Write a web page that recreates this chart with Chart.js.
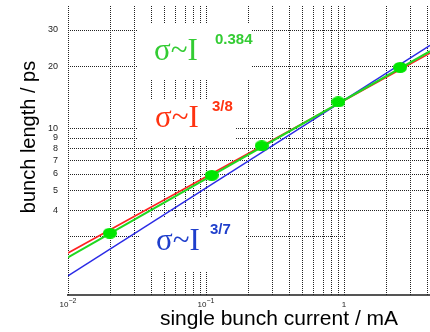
<!DOCTYPE html>
<html>
<head>
<meta charset="utf-8">
<script src="https://cdn.jsdelivr.net/npm/chart.js@4.4.1/dist/chart.umd.min.js"></script>
<style>
  html, body { margin: 0; padding: 0; background: #fff; }
  canvas { display: block; }
</style>
</head>
<body>
<canvas id="bunchChart" width="430" height="332"></canvas>
<script>
// measured bunch length (ps) vs single bunch current (mA)
const current = [0.0201, 0.110, 0.253, 0.909, 2.55];
const bunchLength = [3.09, 5.90, 8.20, 13.4, 19.7];

// power law fits, end points at both edges of the current range
const fitCurrent = [0.01, 4.2];
const fit0384 = [2.36, 23.6];
const fit38 = [2.48, 23.1];
const fit37 = [1.92, 25.2];

// dotted grid and tick labels
const xGrid = [0.01, 0.02, 0.03, 0.04, 0.05, 0.06, 0.07, 0.08, 0.09,
               0.1, 0.2, 0.3, 0.4, 0.5, 0.6, 0.7, 0.8, 0.9, 1, 2, 3, 4];
const yGrid = [4, 5, 6, 7, 8, 9, 10, 20, 30];
const yShortLine = 3;
const yTicks = [4, 5, 6, 7, 8, 9, 10, 20, 30];
const xTicks = [0.01, 0.1, 1];
const xTickBase = ['10', '10', '1'];
const xTickExp = ['\u22122', '\u22121', ''];

// formula labels, white boxes behind them hide the grid
const formulas = [
  { main: 'σ~I', sup: '0.384', color: '#33cc33', x: 154, y: 60, sx: 215, sy: 44 },
  { main: 'σ~I', sup: '3/8', color: '#ff3311', x: 155, y: 127, sx: 212, sy: 111 },
  { main: 'σ~I', sup: '3/7', color: '#1f3fcc', x: 156, y: 250, sx: 210, sy: 234 }
];
const boxes = [[138, 23, 114, 57], [138, 100, 98, 45], [139, 218, 107, 54]];

// green ellipse marker
const dot = document.createElement('canvas');
dot.width = 14; dot.height = 11;
const dctx = dot.getContext('2d');
dctx.fillStyle = '#00e600';
dctx.beginPath();
dctx.ellipse(7, 5.5, 7, 5.5, 0, 0, Math.PI * 2);
dctx.fill();

const pairs = (xs, ys) => xs.map((x, i) => ({ x: x, y: ys[i] }));

const decor = {
  id: 'decor',
  beforeDatasetsDraw(chart) {
    const { ctx, chartArea: a, scales: { x, y } } = chart;
    ctx.save();
    ctx.strokeStyle = '#222';
    ctx.lineWidth = 1;
    ctx.setLineDash([1, 1]);
    ctx.beginPath();
    xGrid.forEach(v => {
      const px = Math.round(x.getPixelForValue(v)) + 0.5;
      ctx.moveTo(px, a.top + 2);
      ctx.lineTo(px, a.bottom);
    });
    yGrid.forEach(v => {
      const py = Math.round(y.getPixelForValue(v)) + 0.5;
      ctx.moveTo(a.left, py);
      ctx.lineTo(a.right, py);
    });
    const p3 = Math.round(y.getPixelForValue(yShortLine)) + 0.5;
    ctx.moveTo(a.left, p3);
    ctx.lineTo(x.getPixelForValue(1), p3);
    ctx.stroke();
    ctx.setLineDash([]);
    ctx.fillStyle = '#fff';
    boxes.forEach(b => ctx.fillRect(b[0], b[1], b[2], b[3]));
    ctx.restore();
  },
  afterDatasetsDraw(chart) {
    const { ctx, scales: { x, y } } = chart;
    ctx.save();
    formulas.forEach(f => {
      ctx.fillStyle = f.color;
      ctx.textAlign = 'left';
      ctx.textBaseline = 'alphabetic';
      ctx.font = '31px "Liberation Serif"';
      ctx.fillText(f.main, f.x, f.y);
      ctx.font = 'bold 15px "Liberation Sans"';
      ctx.fillText(f.sup, f.sx, f.sy);
    });

    ctx.fillStyle = '#222';
    ctx.font = '9px "Liberation Sans"';
    ctx.textAlign = 'right';
    ctx.textBaseline = 'middle';
    yTicks.forEach(v => ctx.fillText(String(v), 58, y.getPixelForValue(v)));

    ctx.textBaseline = 'alphabetic';
    xTicks.forEach((v, i) => {
      const px = x.getPixelForValue(v);
      ctx.font = '8px "Liberation Sans"';
      const bw = ctx.measureText(xTickBase[i]).width;
      ctx.font = '7px "Liberation Sans"';
      const ew = ctx.measureText(xTickExp[i]).width;
      const left = px - (bw + ew) / 2;
      ctx.textAlign = 'left';
      ctx.font = '8px "Liberation Sans"';
      ctx.fillText(xTickBase[i], left, 307);
      ctx.font = '7px "Liberation Sans"';
      ctx.fillText(xTickExp[i], left + bw, 303);
    });

    ctx.fillStyle = '#000';
    ctx.font = '21px "Liberation Sans"';
    ctx.textAlign = 'center';
    ctx.fillText('single bunch current / mA', 279, 325);
    ctx.translate(35, 137);
    ctx.rotate(-Math.PI / 2);
    ctx.font = '20px "Liberation Sans"';
    ctx.fillText('bunch length / ps', 0, 0);
    ctx.restore();
  }
};

new Chart(document.getElementById('bunchChart'), {
  type: 'scatter',
  data: {
    datasets: [
      {
        data: pairs(current, bunchLength),
        pointStyle: dot,
        pointRadius: 7,
        showLine: false,
        order: 0
      },
      {
        data: pairs(fitCurrent, fit0384),
        showLine: true,
        borderColor: '#1fd81f',
        borderWidth: 2,
        pointRadius: 0,
        order: 1
      },
      {
        data: pairs(fitCurrent, fit37),
        showLine: true,
        borderColor: '#2a2ae6',
        borderWidth: 1.3,
        pointRadius: 0,
        order: 2
      },
      {
        data: pairs(fitCurrent, fit38),
        showLine: true,
        borderColor: '#ff2020',
        borderWidth: 1.6,
        pointRadius: 0,
        order: 3
      }
    ]
  },
  options: {
    responsive: false,
    animation: false,
    events: [],
    layout: { autoPadding: false, padding: { left: 68, right: 0, top: 4, bottom: 37 } },
    plugins: { legend: { display: false }, tooltip: { enabled: false } },
    scales: {
      x: {
        type: 'logarithmic',
        min: 0.01,
        max: 4.2,
        ticks: { display: false },
        grid: { display: false, drawTicks: false },
        border: { display: true, color: '#555', width: 2 }
      },
      y: {
        type: 'logarithmic',
        min: 1.55,
        max: 40,
        ticks: { display: false },
        grid: { display: false, drawTicks: false },
        border: { display: false }
      }
    }
  },
  plugins: [decor]
});
</script>
</body>
</html>
